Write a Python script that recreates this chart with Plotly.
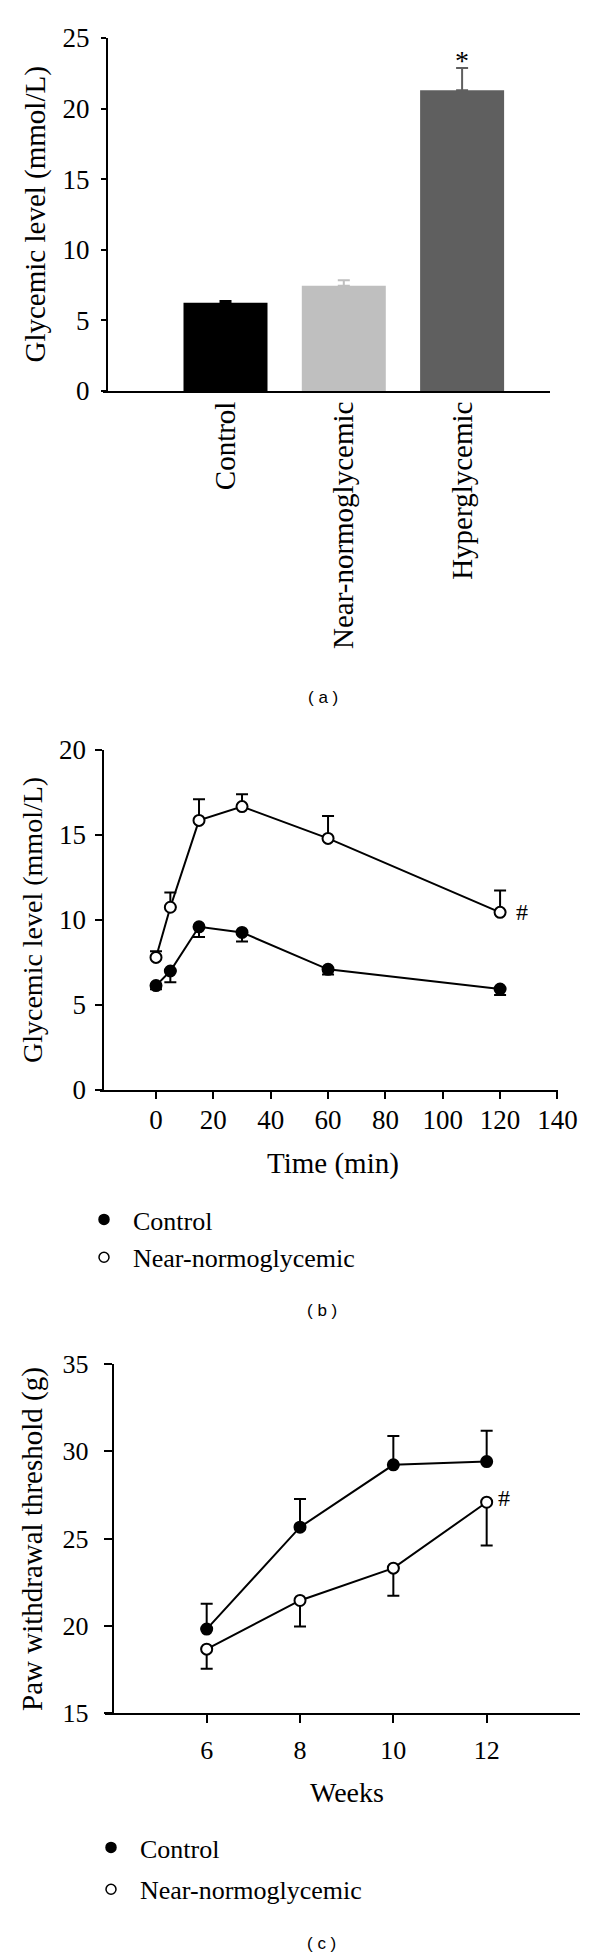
import plotly.graph_objects as go

W, H = 600, 1959

# ---------------- data ----------------
# Panel (a)
groups = ["Control", "Near-normoglycemic", "Hyperglycemic"]
glyc_mean = [6.25, 7.46, 21.3]
glyc_sem = [0.12, 0.38, 1.57]
bar_colors = ["#000000", "#bfbfbf", "#5f5f5f"]

# Panel (b)
ogtt_time = [0, 5, 15, 30, 60, 120]
ogtt_control = [6.14, 7.0, 9.6, 9.27, 7.1, 5.94]
ogtt_control_sem = [0.22, 0.66, 0.6, 0.54, 0.3, 0.35]
ogtt_near = [7.8, 10.75, 15.86, 16.67, 14.8, 10.45]
ogtt_near_sem = [0.36, 0.87, 1.24, 0.73, 1.32, 1.28]
time_ticks = [0, 20, 40, 60, 80, 100, 120, 140]

# Panel (c)
weeks = [6, 8, 10, 12]
paw_control = [19.81, 25.65, 29.22, 29.41]
paw_control_sem = [1.45, 1.62, 1.66, 1.77]
paw_near = [18.66, 21.45, 23.3, 27.08]
paw_near_sem = [1.12, 1.49, 1.58, 2.48]

SERIF = "Liberation Serif"
SANS = "Liberation Sans"


def px(x):
    return x / W


def py(y):
    return 1 - y / H


fig = go.Figure()

# ---------------- panel (a) bars ----------------
for i, (m, s, c) in enumerate(zip(glyc_mean, glyc_sem, bar_colors)):
    fig.add_trace(go.Bar(
        x=[i], y=[m], width=0.71, marker=dict(color=c, line=dict(width=0)),
        error_y=dict(type="data", symmetric=False, array=[s], arrayminus=[0],
                     color=c, thickness=2, width=6),
        xaxis="x", yaxis="y", showlegend=False, hoverinfo="skip"))

# ---------------- panel (b) lines ----------------
fig.add_trace(go.Scatter(
    x=ogtt_time, y=ogtt_control, mode="lines+markers",
    line=dict(color="black", width=2),
    marker=dict(size=11, color="black", line=dict(color="black", width=2)),
    error_y=dict(type="data", symmetric=False, array=[0] * len(ogtt_time),
                 arrayminus=ogtt_control_sem, color="black", thickness=2, width=6),
    xaxis="x2", yaxis="y2", showlegend=False))
fig.add_trace(go.Scatter(
    x=ogtt_time, y=ogtt_near, mode="lines+markers",
    line=dict(color="black", width=2),
    marker=dict(size=11, color="white", line=dict(color="black", width=2)),
    error_y=dict(type="data", symmetric=False, array=ogtt_near_sem,
                 arrayminus=[0] * len(ogtt_time), color="black", thickness=2, width=6),
    xaxis="x2", yaxis="y2", showlegend=False))

# ---------------- panel (c) lines ----------------
fig.add_trace(go.Scatter(
    x=weeks, y=paw_control, mode="lines+markers",
    line=dict(color="black", width=2),
    marker=dict(size=11, color="black", line=dict(color="black", width=2)),
    error_y=dict(type="data", symmetric=False, array=paw_control_sem,
                 arrayminus=[0] * len(weeks), color="black", thickness=2, width=6),
    xaxis="x3", yaxis="y3", showlegend=False))
fig.add_trace(go.Scatter(
    x=weeks, y=paw_near, mode="lines+markers",
    line=dict(color="black", width=2),
    marker=dict(size=11, color="white", line=dict(color="black", width=2)),
    error_y=dict(type="data", symmetric=False, array=[0] * len(weeks),
                 arrayminus=paw_near_sem, color="black", thickness=2, width=6),
    xaxis="x3", yaxis="y3", showlegend=False))

# ---------------- legend entries ----------------
for lg, ax, ay in (("legend", "x2", "y2"), ("legend2", "x3", "y3")):
    fig.add_trace(go.Scatter(
        x=[None], y=[None], mode="markers", name="Control",
        marker=dict(size=10, color="black", line=dict(color="black", width=1.5)),
        xaxis=ax, yaxis=ay, legend=lg, legendgroup=lg + "c", showlegend=True))
    fig.add_trace(go.Scatter(
        x=[None], y=[None], mode="markers", name="Near-normoglycemic",
        marker=dict(size=10, color="white", line=dict(color="black", width=1.5)),
        xaxis=ax, yaxis=ay, legend=lg, legendgroup=lg + "n", showlegend=True))

axis_common = dict(showline=True, linecolor="black", linewidth=2, showgrid=False,
                   zeroline=False, tickcolor="black", tickwidth=2, automargin=False)

fig.update_layout(
    template="none",
    width=W, height=H,
    margin=dict(l=0, r=0, t=0, b=0, autoexpand=False),
    paper_bgcolor="white", plot_bgcolor="white",
    font=dict(family=SERIF, color="black"),
    barmode="overlay",
    hovermode=False,
    # panel (a)
    xaxis=dict(domain=[px(103), px(550)], range=[-1.0355, 2.743], anchor="y",
               tickmode="array", tickvals=[0, 1, 2], ticktext=groups,
               ticks="", tickangle=-90, tickfont=dict(size=29, family=SERIF),
               ticklabelstandoff=-3, **axis_common),
    yaxis=dict(domain=[py(391), py(38)], range=[0, 25], anchor="free", position=px(107),
               tickmode="linear", tick0=0, dtick=5, ticks="outside", ticklen=5,
               tickfont=dict(size=27, family=SERIF), ticklabelstandoff=6, **axis_common),
    # panel (b)
    xaxis2=dict(domain=[px(100), px(558)], range=[-19.53, 140.2], anchor="y2",
                tickmode="array", tickvals=time_ticks, ticks="outside", ticklen=7,
                tickfont=dict(size=27, family=SERIF), ticklabelstandoff=-2, **axis_common),
    yaxis2=dict(domain=[py(1090), py(750)], range=[0, 20], anchor="free", position=px(103.3),
                tickmode="linear", tick0=0, dtick=5, ticks="outside", ticklen=7,
                tickfont=dict(size=27, family=SERIF), ticklabelstandoff=4, **axis_common),
    # panel (c)
    xaxis3=dict(domain=[px(105), px(580)], range=[3.821, 14.0], anchor="y3",
                tickmode="array", tickvals=weeks, ticks="outside", ticklen=8,
                tickfont=dict(size=26, family=SERIF), ticklabelstandoff=5, **axis_common),
    yaxis3=dict(domain=[py(1713), py(1364)], range=[15, 35], anchor="free", position=px(112.7),
                tickmode="linear", tick0=15, dtick=5, ticks="outside", ticklen=8,
                tickfont=dict(size=26, family=SERIF), ticklabelstandoff=10, **axis_common),
    legend=dict(x=px(75), y=py(1196), xanchor="left", yanchor="top",
                font=dict(size=26, family=SERIF), itemwidth=48, tracegroupgap=1,
                bgcolor="rgba(0,0,0,0)", borderwidth=0, itemclick=False),
    legend2=dict(x=px(82), y=py(1824), xanchor="left", yanchor="top",
                 font=dict(size=26, family=SERIF), itemwidth=48, tracegroupgap=5,
                 bgcolor="rgba(0,0,0,0)", borderwidth=0, itemclick=False),
)

ann = []


def text_ann(t, x, y, size, family=SERIF, angle=0):
    ann.append(dict(text=t, x=px(x), y=py(y), xref="paper", yref="paper",
                    xanchor="center", yanchor="middle", showarrow=False,
                    textangle=angle, font=dict(size=size, family=family, color="black")))


text_ann("Glycemic level (mmol/L)", 35, 214.5, 29, angle=-90)
text_ann("Glycemic level (mmol/L)", 32, 920, 28, angle=-90)
text_ann("Time (min)", 333, 1163, 29)
text_ann("Paw withdrawal threshold (g)", 32, 1539, 29, angle=-90)
text_ann("Weeks", 347, 1792, 28)
text_ann("( a )", 323, 698, 17, family=SANS)
text_ann("( b )", 322, 1310, 17, family=SANS)
text_ann("( c )", 321.5, 1943, 17, family=SANS)

# significance marks
ann.append(dict(text="*", x=2, y=glyc_mean[2] + glyc_sem[2], xref="x", yref="y",
                xanchor="center", yanchor="bottom", yshift=-10, showarrow=False,
                font=dict(size=28, family=SERIF, color="black")))
ann.append(dict(text="#", x=ogtt_time[-1], y=ogtt_near[-1], xref="x2", yref="y2",
                xanchor="center", yanchor="middle", xshift=22, showarrow=False,
                font=dict(size=24, family=SERIF, color="black")))
ann.append(dict(text="#", x=weeks[-1], y=paw_near[-1], xref="x3", yref="y3",
                xanchor="center", yanchor="middle", xshift=17, yshift=4, showarrow=False,
                font=dict(size=24, family=SERIF, color="black")))

fig.update_layout(annotations=ann)

fig.write_html("out.html",
               config={"displayModeBar": False, "staticPlot": True},
               post_script="document.body.style.margin='0px';document.body.style.padding='0px';")
